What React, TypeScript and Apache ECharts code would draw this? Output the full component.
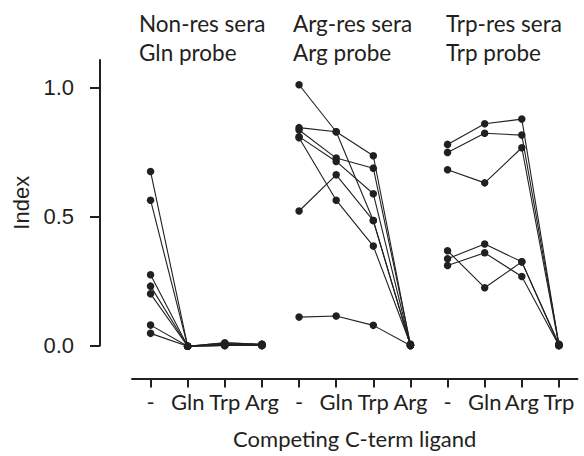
import React, { useEffect, useRef } from "react";
import * as echarts from "echarts";

// Panel titles (two lines each)
const panelTitles: string[][] = [
  ["Non-res sera", "Gln probe"],
  ["Arg-res sera", "Arg probe"],
  ["Trp-res sera", "Trp probe"],
];

// Competing ligand categories per panel
const panel1Cats = ["-", "Gln", "Trp", "Arg"];
const panel2Cats = ["-", "Gln", "Trp", "Arg"];
const panel3Cats = ["-", "Gln", "Arg", "Trp"];

// Panel 1: Non-res sera, Gln probe (one row per serum)
const panel1Lines: number[][] = [
  [0.674, -0.003, 0.01, 0.005],
  [0.563, -0.003, 0.005, 0.0],
  [0.274, -0.003, 0.0, 0.005],
  [0.23, -0.003, 0.005, 0.0],
  [0.2, -0.003, 0.0, 0.0],
  [0.079, -0.003, 0.01, 0.005],
  [0.047, -0.003, 0.0, 0.0],
];

// Panel 2: Arg-res sera, Arg probe
const panel2Lines: number[][] = [
  [1.01, 0.828, 0.484, 0.0],
  [0.844, 0.828, 0.735, 0.0],
  [0.835, 0.726, 0.687, 0.005],
  [0.809, 0.713, 0.588, 0.0],
  [0.805, 0.563, 0.385, 0.005],
  [0.521, 0.661, 0.484, 0.0],
  [0.11, 0.114, 0.078, 0.0],
];

// Panel 3: Trp-res sera, Trp probe
const panel3Lines: number[][] = [
  [0.779, 0.859, 0.877, 0.0],
  [0.748, 0.822, 0.815, 0.005],
  [0.681, 0.63, 0.766, 0.0],
  [0.367, 0.224, 0.324, 0.0],
  [0.336, 0.393, 0.324, 0.005],
  [0.31, 0.359, 0.267, 0.0],
];

const yTicks = [0, 0.5, 1.0];
const xAxisTitle = "Competing C-term ligand";
const yAxisTitle = "Index";

const INK = "#231f20";
const SANS = "Lato, 'Open Sans', sans-serif";
const ARIAL = "'Liberation Sans', Arial, sans-serif";

export default function App() {
  const ref = useRef<HTMLDivElement>(null);

  useEffect(() => {
    document.body.style.margin = "0";
    if (!ref.current) return;
    const chart = echarts.init(ref.current, undefined, { renderer: "svg" });

    const panels = [
      { cats: panel1Cats, lines: panel1Lines },
      { cats: panel2Cats, lines: panel2Lines },
      { cats: panel3Cats, lines: panel3Lines },
    ];
    const categories: string[] = [];
    panels.forEach((p, pi) => p.cats.forEach((c) => categories.push(`${pi}|${c}`)));

    const series: any[] = [];
    panels.forEach((p, pi) => {
      p.lines.forEach((row, ri) => {
        series.push({
          type: "line",
          name: `p${pi}-${ri}`,
          data: row.map((v, ci) => [`${pi}|${p.cats[ci]}`, v]),
          symbol: "circle",
          symbolSize: 7.5,
          showSymbol: true,
          clip: false,
          lineStyle: { color: INK, width: 1.1 },
          itemStyle: { color: INK },
          emphasis: { disabled: true },
          silent: true,
        });
      });
    });

    const titleX = [139, 293, 446];
    const graphics: any[] = [];
    panelTitles.forEach((lines, i) => {
      lines.forEach((t, li) => {
        graphics.push({
          type: "text",
          x: titleX[i],
          y: 23 + li * 29,
          style: {
            text: t,
            fill: INK,
            fontSize: 22.5,
            fontFamily: SANS,
            verticalAlign: "middle",
            align: "left",
          },
        });
      });
    });

    chart.setOption({
      animation: false,
      grid: { left: 132, right: 6.5, top: 60, bottom: 110.5 },
      graphic: graphics,
      xAxis: {
        type: "category",
        data: categories,
        boundaryGap: true,
        offset: 33,
        name: xAxisTitle,
        nameLocation: "middle",
        nameGap: 49,
        nameTextStyle: { color: INK, fontSize: 22, fontFamily: SANS },
        axisLine: { show: true, onZero: false, lineStyle: { color: INK, width: 2 } },
        axisTick: { show: true, alignWithLabel: true, length: 9, lineStyle: { color: INK, width: 2 } },
        axisLabel: {
          color: INK,
          fontSize: 22,
          fontFamily: SANS,
          margin: 12,
          interval: 0,
          formatter: (v: string) => v.split("|")[1],
        },
        splitLine: { show: false },
      },
      yAxis: {
        type: "value",
        min: 0,
        max: 1.106,
        offset: 32,
        name: yAxisTitle,
        nameLocation: "middle",
        nameRotate: 90,
        nameGap: 66,
        nameTextStyle: { color: INK, fontSize: 22, fontFamily: ARIAL },
        axisLine: { show: true, onZero: false, lineStyle: { color: INK, width: 2 } },
        axisTick: { show: true, length: 10, customValues: yTicks, lineStyle: { color: INK, width: 2 } },
        axisLabel: {
          color: INK,
          fontSize: 22,
          fontFamily: ARIAL,
          margin: 26,
          customValues: yTicks,
          formatter: (v: number) => v.toFixed(1),
        },
        splitLine: { show: false },
      },
      series,
    });

    return () => chart.dispose();
  }, []);

  return <div ref={ref} style={{ width: 584, height: 456 }} />;
}
